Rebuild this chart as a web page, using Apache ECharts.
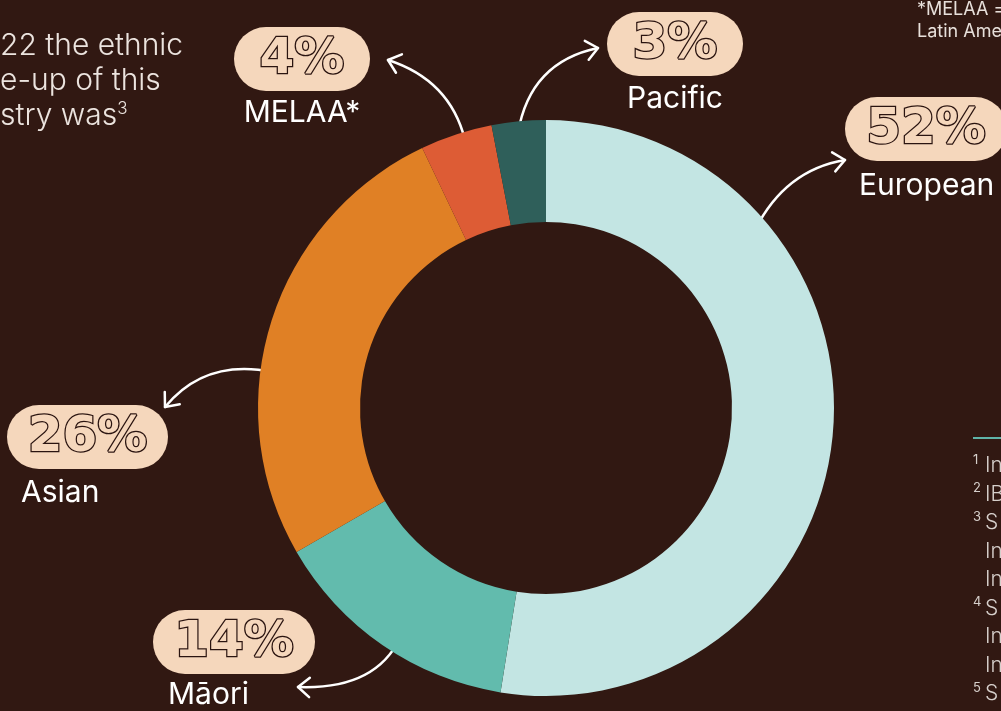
<!DOCTYPE html>
<html>
<head>
<meta charset="utf-8">
<script src="https://cdn.jsdelivr.net/npm/echarts@6/dist/echarts.min.js"></script>
<style>
  html, body { margin: 0; padding: 0; background: #311812; overflow: hidden; }
  #chart { width: 1001px; height: 711px; }
</style>
</head>
<body>
<div id="chart"></div>
<script>
const groups = ['European', 'Māori', 'Asian', 'MELAA*', 'Pacific']
const shares = [52, 14, 26, 4, 3]
const sliceColors = ['#c3e5e3', '#62bbad', '#e08025', '#dd5c35', '#2f5f5a']

const introLines = ['22 the ethnic', 'e-up of this', 'stry was{sup|3}']
const noteLines = ['*MELAA = Middle Eastern,', 'Latin American and African']
const footMarks = ['1', '2', '3', '', '', '4', '', '', '5']
const footTexts = ['In', 'IB', 'S', 'In', 'In', 'S', 'In', 'In', 'S']

// where each callout sits: pill box, name label, arrow path (start, control, end)
const callouts = [
  { pill: [845, 97, 162], name: [859, 186, 'left'], arrow: [755, 230, 785, 170, 845, 160] },
  { pill: [153, 610, 162], name: [168, 695, 'left'], arrow: [400, 638, 375, 690, 298, 687] },
  { pill: [7, 405, 161], name: [21, 493, 'left'], arrow: [273, 372, 205, 358, 165, 407] },
  { pill: [234, 27, 136], name: [302, 113, 'center'], arrow: [465, 140, 450, 80, 388, 60] },
  { pill: [607, 12, 136], name: [675, 99, 'center'], arrow: [518, 133, 530, 62, 598, 48] }
]

const chart = echarts.init(document.getElementById('chart'))

function arrowHead(x, y, fromX, fromY) {
  const a = Math.atan2(y - fromY, x - fromX)
  const len = 15
  const spread = 0.7
  return [
    [x - len * Math.cos(a - spread), y - len * Math.sin(a - spread)],
    [x, y],
    [x - len * Math.cos(a + spread), y - len * Math.sin(a + spread)]
  ]
}

function buildGraphic() {
  const items = []
  const lineStyle = { stroke: '#ffffff', lineWidth: 2.5, fill: null, lineCap: 'round', lineJoin: 'round' }

  introLines.forEach((line, i) => {
    items.push({
      type: 'text', x: 0, y: 46 + i * 35, silent: true,
      style: {
        text: line, fill: '#ece4df', font: '300 30px Inter, sans-serif', verticalAlign: 'middle',
        rich: { sup: { fontSize: 17, verticalAlign: 'top', fill: '#ece4df', padding: [0, 0, 14, 0], fontFamily: 'Inter', fontWeight: 300 } }
      }
    })
  })

  noteLines.forEach((line, i) => {
    items.push({
      type: 'text', x: 917, y: 10 + i * 22, silent: true,
      style: { text: line, fill: '#e8e0db', font: '18px Inter, sans-serif', verticalAlign: 'middle' }
    })
  })

  items.push({
    type: 'line', silent: true,
    shape: { x1: 973, y1: 438, x2: 1001, y2: 438 },
    style: { stroke: '#5fb3a8', lineWidth: 2 }
  })
  footTexts.forEach((t, i) => {
    const y = 466 + i * 28.5
    if (footMarks[i]) {
      items.push({
        type: 'text', x: 973, y: y - 6, silent: true,
        style: { text: footMarks[i], fill: '#d6cfcb', font: '13px Inter, sans-serif', verticalAlign: 'middle' }
      })
    }
    items.push({
      type: 'text', x: 985, y: y, silent: true,
      style: { text: t, fill: '#d6cfcb', font: '300 21px Inter, sans-serif', verticalAlign: 'middle' }
    })
  })

  callouts.forEach((c, i) => {
    const [px, py, pw] = c.pill
    items.push({
      type: 'rect', silent: true,
      shape: { x: px, y: py, width: pw, height: 64, r: 32 },
      style: { fill: '#f5d7bc' }
    })
    items.push({
      type: 'text', x: px + pw / 2, y: py + 33, silent: true,
      style: {
        text: shares[i] + '%', fill: '#f5d7bc', stroke: '#2a1410', lineWidth: 2.5,
        font: 'bold 50px "DejaVu Sans", sans-serif', align: 'center', verticalAlign: 'middle'
      }
    })
    items.push({
      type: 'text', x: c.name[0], y: c.name[1], silent: true,
      style: {
        text: groups[i], fill: '#ffffff', font: '30px Inter, sans-serif',
        align: c.name[2], verticalAlign: 'middle'
      }
    })
    const [x1, y1, cx, cy, x2, y2] = c.arrow
    items.push({
      type: 'bezierCurve', silent: true,
      shape: { x1, y1, x2, y2, cpx1: cx, cpy1: cy },
      style: lineStyle
    })
    items.push({
      type: 'polyline', silent: true,
      shape: { points: arrowHead(x2, y2, cx, cy) },
      style: lineStyle
    })
  })
  return items
}

chart.setOption({
  backgroundColor: '#311812',
  animation: false,
  series: [
    {
      type: 'pie',
      center: [546, 408],
      radius: [186, 288],
      startAngle: 90,
      clockwise: true,
      silent: true,
      label: { show: false },
      labelLine: { show: false },
      itemStyle: { borderWidth: 0 },
      data: groups.map((name, i) => ({
        name, value: shares[i], itemStyle: { color: sliceColors[i] }
      }))
    }
  ],
  graphic: buildGraphic()
})
</script>
</body>
</html>
